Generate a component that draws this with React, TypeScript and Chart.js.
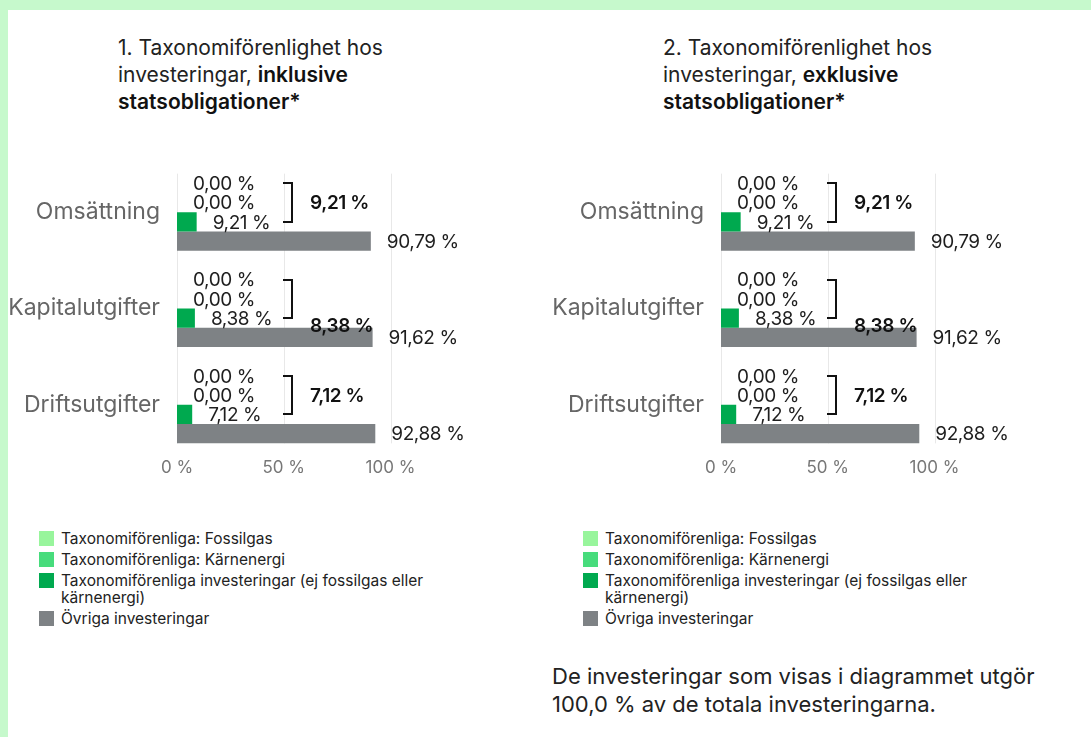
import React, { useEffect, useRef } from "react";
import { Chart, registerables } from "chart.js";

Chart.register(...registerables);
Chart.defaults.font.family = "Inter";

const categories = ["Omsättning", "Kapitalutgifter", "Driftsutgifter"];
const seriesNames = [
  "Taxonomiförenliga: Fossilgas",
  "Taxonomiförenliga: Kärnenergi",
  "Taxonomiförenliga investeringar (ej fossilgas eller kärnenergi)",
  "Övriga investeringar",
];
const seriesColors = ["#98f59c", "#47dc7c", "#00a94f", "#7e8285"];

// Chart 1: inklusive statsobligationer
const inclFossil = [0, 0, 0];
const inclNuclear = [0, 0, 0];
const inclAligned = [9.21, 8.38, 7.12];
const inclOther = [90.79, 91.62, 92.88];

// Chart 2: exklusive statsobligationer
const exclFossil = [0, 0, 0];
const exclNuclear = [0, 0, 0];
const exclAligned = [9.21, 8.38, 7.12];
const exclOther = [90.79, 91.62, 92.88];

const xTicks = [0, 50, 100];
// row (in bar units from top of group) where the bold total sits
const totalLabelRow = [1, 2.35, 1];

const fmt = (v: number) => v.toFixed(2).replace(".", ",") + " %";

const annotPlugin = {
  id: "annot",
  beforeDatasetsDraw(chart: any) {
    const ctx = chart.ctx;
    const xs = chart.scales.x;
    const firstMeta = chart.getDatasetMeta(0).data;
    const lastMeta = chart.getDatasetMeta(chart.data.datasets.length - 1).data;
    const f = firstMeta[0].getProps(["y", "height"], true);
    const l = lastMeta[lastMeta.length - 1].getProps(["y", "height"], true);
    const top = f.y - f.height / 2;
    const bottom = l.y + l.height / 2;
    ctx.save();
    ctx.strokeStyle = "#e8e8e8";
    ctx.lineWidth = 1;
    xTicks.forEach((t) => {
      const x = Math.round(xs.getPixelForValue(t)) + 0.5;
      ctx.beginPath();
      ctx.moveTo(x, top);
      ctx.lineTo(x, bottom);
      ctx.stroke();
    });
    ctx.restore();
  },
  afterDatasetsDraw(chart: any) {
    const ctx = chart.ctx;
    const xs = chart.scales.x;
    const ds = chart.data.datasets;
    ctx.save();
    ctx.textBaseline = "middle";
    ctx.textAlign = "left";
    ctx.fillStyle = "#1e1e1e";
    ctx.font = "19px Inter";
    try { (ctx as any).letterSpacing = "-0.4px"; } catch (e) {}
    ds.forEach((d: any, i: number) => {
      const meta = chart.getDatasetMeta(i);
      meta.data.forEach((el: any, j: number) => {
        const p = el.getProps(["x", "y"], true);
        ctx.fillText(fmt(d.data[j]), p.x + 16, p.y + 1);
      });
    });
    // brackets and totals
    const m0 = chart.getDatasetMeta(0).data;
    const m2 = chart.getDatasetMeta(2).data;
    const xArm = Math.round(xs.getPixelForValue(50)) - 1;
    const xV = xArm + 9;
    categories.forEach((_, j) => {
      const a = m0[j].getProps(["y", "height"], true);
      const c = m2[j].getProps(["y"], true);
      const yTop = Math.round(a.y);
      const yBot = Math.round(c.y);
      ctx.strokeStyle = "#111";
      ctx.lineWidth = 2;
      ctx.beginPath();
      ctx.moveTo(xArm, yTop);
      ctx.lineTo(xV, yTop);
      ctx.lineTo(xV, yBot);
      ctx.lineTo(xArm, yBot);
      ctx.stroke();
      const total = ds[0].data[j] + ds[1].data[j] + ds[2].data[j];
      const yLab = a.y + totalLabelRow[j] * a.height + 1;
      ctx.font = "600 19px Inter";
      ctx.fillStyle = "#111";
      ctx.fillText(fmt(total), xV + 18, yLab);
    });
    ctx.restore();
  },
};

function BarPanel({ series, left }: { series: number[][]; left: number }) {
  const ref = useRef<HTMLCanvasElement | null>(null);
  useEffect(() => {
    if (!ref.current) return;
    const chart = new Chart(ref.current, {
      type: "bar",
      data: {
        labels: categories,
        datasets: series.map((s, i) => ({
          label: seriesNames[i],
          data: s,
          backgroundColor: seriesColors[i],
          borderWidth: 0,
          barPercentage: 1,
          categoryPercentage: 0.8,
        })),
      },
      options: {
        indexAxis: "y",
        responsive: false,
        animation: false,
        layout: { padding: { top: 13, right: 89.5, left: 0, bottom: 0 } },
        plugins: { legend: { display: false }, tooltip: { enabled: false } },
        scales: {
          x: {
            min: 0,
            max: 100,
            afterBuildTicks: (scale: any) => {
              scale.ticks = xTicks.map((v) => ({ value: v }));
            },
            ticks: {
              callback: (v: any) => v + " %",
              font: { size: 17 },
              color: "#777",
              padding: 5,
              maxRotation: 0,
            },
            grid: { display: false, drawTicks: false },
            border: { display: false },
            afterFit: (scale: any) => {
              scale.height = 28;
              scale.paddingLeft = 0;
              scale.paddingRight = 0;
            },
          },
          y: {
            ticks: { font: { size: 23 }, color: "#666", padding: 17 },
            grid: { display: false, drawTicks: false },
            border: { display: false },
            afterFit: (scale: any) => {
              scale.width = 177;
              scale.paddingTop = 0;
              scale.paddingBottom = 0;
            },
          },
        },
      },
      plugins: [annotPlugin],
    } as any);
    return () => chart.destroy();
  }, []);
  return (
    <canvas
      ref={ref}
      width={480}
      height={330}
      style={{ position: "absolute", left, top: 151, width: 480, height: 330 }}
    />
  );
}

function Legend({ left }: { left: number }) {
  return (
    <div style={{ position: "absolute", left, top: 530, fontSize: 15.5, lineHeight: "17px", color: "#222" }}>
      {seriesNames.map((n, i) => (
        <div key={i} style={{ display: "flex", alignItems: "flex-start", marginBottom: 4 }}>
          <div style={{ width: 15, height: 15, marginTop: 1, background: seriesColors[i], flex: "none" }} />
          <div style={{ marginLeft: 7, width: 390 }}>{n}</div>
        </div>
      ))}
    </div>
  );
}

function Title({ left, num, bold }: { left: number; num: string; bold: string }) {
  return (
    <div style={{ position: "absolute", left, top: 34, fontSize: 21, lineHeight: "27px", color: "#222", width: 330 }}>
      {num}. Taxonomiförenlighet hos
      <br />
      investeringar, <span style={{ fontWeight: 600, color: "#111" }}>{bold}</span>
      <br />
      <span style={{ fontWeight: 600, color: "#111" }}>statsobligationer*</span>
    </div>
  );
}

export default function App() {
  return (
    <div
      style={{
        position: "absolute",
        left: 0,
        top: 0,
        width: 1091,
        height: 737,
        background: "#c6f9cc",
        overflow: "hidden",
        fontFamily: "Inter, sans-serif",
      }}
    >
      <div style={{ position: "absolute", left: 8, top: 10, right: 0, bottom: 0, background: "#fff" }} />
      <Title left={118} num="1" bold="inklusive" />
      <Title left={663} num="2" bold="exklusive" />
      <BarPanel series={[inclFossil, inclNuclear, inclAligned, inclOther]} left={0} />
      <BarPanel series={[exclFossil, exclNuclear, exclAligned, exclOther]} left={544} />
      <Legend left={39} />
      <Legend left={583} />
      <div style={{ position: "absolute", left: 552, top: 662, fontSize: 22, lineHeight: "28px", color: "#222" }}>
        De investeringar som visas i diagrammet utgör
        <br />
        100,0 % av de totala investeringarna.
      </div>
    </div>
  );
}
